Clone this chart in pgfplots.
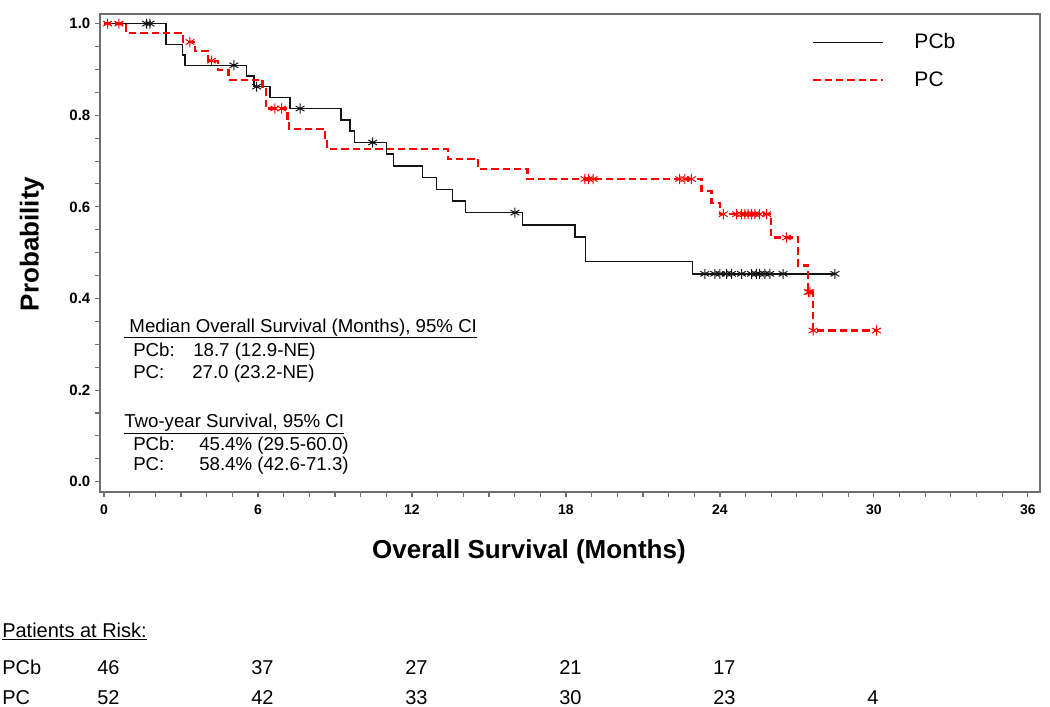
\documentclass[border=0pt]{standalone}
\usepackage{pgfplots}
\pgfplotsset{compat=1.18}
\usepackage{fontspec}
\setmainfont{Liberation Sans}
\definecolor{kmred}{RGB}{255,0,0}
\definecolor{kmblack}{RGB}{20,20,20}
\definecolor{frame}{RGB}{110,110,110}
\begin{document}
\begin{tikzpicture}
\path[use as bounding box] (0,0) rectangle (787.5pt,-530.25pt);
\begin{axis}[
  at={(75pt,-369pt)}, anchor=south west,
  scale only axis, width=705pt, height=358.5pt,
  xmin=-0.156, xmax=36.47, ymin=-0.0225, ymax=1.021,
  axis line style={draw=frame, line width=0.8pt},
  tick pos=left, tick align=outside,
  xtick={0,6,...,36}, minor xtick={0,1,...,36},
  ytick={0,0.2,0.4,0.6,0.8,1.0}, minor ytick={0,0.05,...,1.0},
  major tick length=3.75pt, minor tick length=3.75pt,
  tick style={draw=frame, line width=0.8pt},
  /pgf/number format/assume math mode=true,
  yticklabel style={font=\fontsize{11.25pt}{13pt}\selectfont\bfseries,
    /pgf/number format/.cd, fixed, fixed zerofill, precision=1},
  xticklabel style={font=\fontsize{10.5pt}{12pt}\selectfont\bfseries, yshift=-2pt},
  legend style={draw=none, fill=none, at={(0.7574,0.9017)}, anchor=west,
    inner sep=0pt, font=\fontsize{15.75pt}{18pt}\selectfont, row sep=15.5pt,
    nodes={inner sep=0pt},
    /tikz/every odd column/.append style={column sep=22.5pt}},
  legend image code/.code={\draw[#1] (0pt,0pt) -- (52.5pt,0pt);},
  legend cell align=left,
  clip=false,
]
% PCb (black, solid)
\addplot[const plot, kmblack, line width=1.1pt, mark=none] coordinates {
(0,1) (2.42,0.9545) (3.06,0.9318) (3.15,0.909) (5.56,0.8858) (5.84,0.8625)
(6.47,0.8385) (7.25,0.8146) (9.24,0.7899) (9.58,0.7652) (9.75,0.7405)
(11.01,0.7150) (11.27,0.6895) (12.42,0.6640) (12.96,0.6384) (13.58,0.6129)
(14.08,0.5873) (16.31,0.5606) (18.35,0.5339) (18.77,0.4805) (22.93,0.4538)
(28.54,0.4538)};
\addlegendentry{PCb}
% PC (red, dashed)
\addplot[const plot, kmred, line width=1.7pt, dash pattern=on 5.5pt off 3pt, mark=none] coordinates {
(0,1) (0.85,0.98) (3.09,0.96) (3.55,0.9396) (4.06,0.9191) (4.45,0.8983)
(4.85,0.8774) (6.18,0.8565) (6.30,0.8147) (7.15,0.7927) (7.22,0.7707)
(8.61,0.7487) (8.70,0.7267) (13.40,0.7047) (14.58,0.6827) (16.50,0.6607)
(23.28,0.6343) (23.67,0.6079) (24.00,0.584) (26.00,0.533) (27.05,0.472)
(27.44,0.414) (27.63,0.330) (30.10,0.330)};
\addlegendentry{PC}
% censored marks PCb
\addplot[only marks, forget plot, mark=asterisk, mark size=3.8pt, kmblack, mark options={line width=0.75pt}] coordinates {
(1.66,1) (1.79,1) (5.06,0.909) (5.95,0.8625) (7.64,0.8146) (10.47,0.7405)
(16.01,0.5873) (23.41,0.4538) (23.80,0.4538) (24.00,0.4538) (24.26,0.4538)
(24.45,0.4538) (24.84,0.4538) (25.23,0.4538) (25.42,0.4538) (25.55,0.4538)
(25.75,0.4538) (25.94,0.4538) (26.46,0.4538) (28.48,0.4538)};
% censored marks PC
\addplot[only marks, forget plot, mark=asterisk, mark size=3.8pt, kmred, mark options={line width=0.75pt}] coordinates {
(0.14,1) (0.58,1) (3.35,0.96) (4.19,0.9191) (6.66,0.8147) (6.92,0.8147)
(18.74,0.6607) (18.87,0.6607) (19.06,0.6607) (22.43,0.6607) (22.63,0.6607)
(22.89,0.6607) (24.13,0.584) (24.65,0.584) (24.84,0.584) (24.97,0.584)
(25.10,0.584) (25.23,0.584) (25.36,0.584) (25.55,0.584) (25.82,0.584)
(26.59,0.533) (27.44,0.414) (27.50,0.414) (27.63,0.330) (30.10,0.330)};
\end{axis}
\begin{scope}[x=0.75pt,y=-0.75pt]
\node[rotate=90, font=\fontsize{19.5pt}{22pt}\selectfont\bfseries] at (32,244) {Probability};
\node[font=\fontsize{19.5pt}{22pt}\selectfont\bfseries] at (529,552) {Overall Survival (Months)};
\begin{scope}[every node/.style={anchor=base west, inner sep=0pt, font=\fontsize{14pt}{16pt}\selectfont}]
\node at (124,332) {\underline{\ Median Overall Survival (Months), 95\% CI}};
\node at (133,356.5) {PCb:};
\node at (193,356.5) {18.7 (12.9-NE)};
\node at (133,378) {PC:};
\node at (192,378) {27.0 (23.2-NE)};
\node at (124,427.5) {\underline{Two-year Survival, 95\% CI}};
\node at (133,450) {PCb:};
\node at (199,450) {45.4\% (29.5-60.0)};
\node at (133,470) {PC:};
\node at (199,470) {58.4\% (42.6-71.3)};
\end{scope}
\begin{scope}[every node/.style={anchor=base west, inner sep=0pt, font=\fontsize{15pt}{17pt}\selectfont}]
\node at (2,637) {\underline{Patients at Risk:}};
\node at (2,674) {PCb};
\node at (2,704) {PC};
\node at (97,674) {46};
\node at (251,674) {37};
\node at (405,674) {27};
\node at (559,674) {21};
\node at (713,674) {17};
\node at (97,704) {52};
\node at (251,704) {42};
\node at (405,704) {33};
\node at (559,704) {30};
\node at (713,704) {23};
\node at (867,704) {4};
\end{scope}
\end{scope}
\end{tikzpicture}
\end{document}
